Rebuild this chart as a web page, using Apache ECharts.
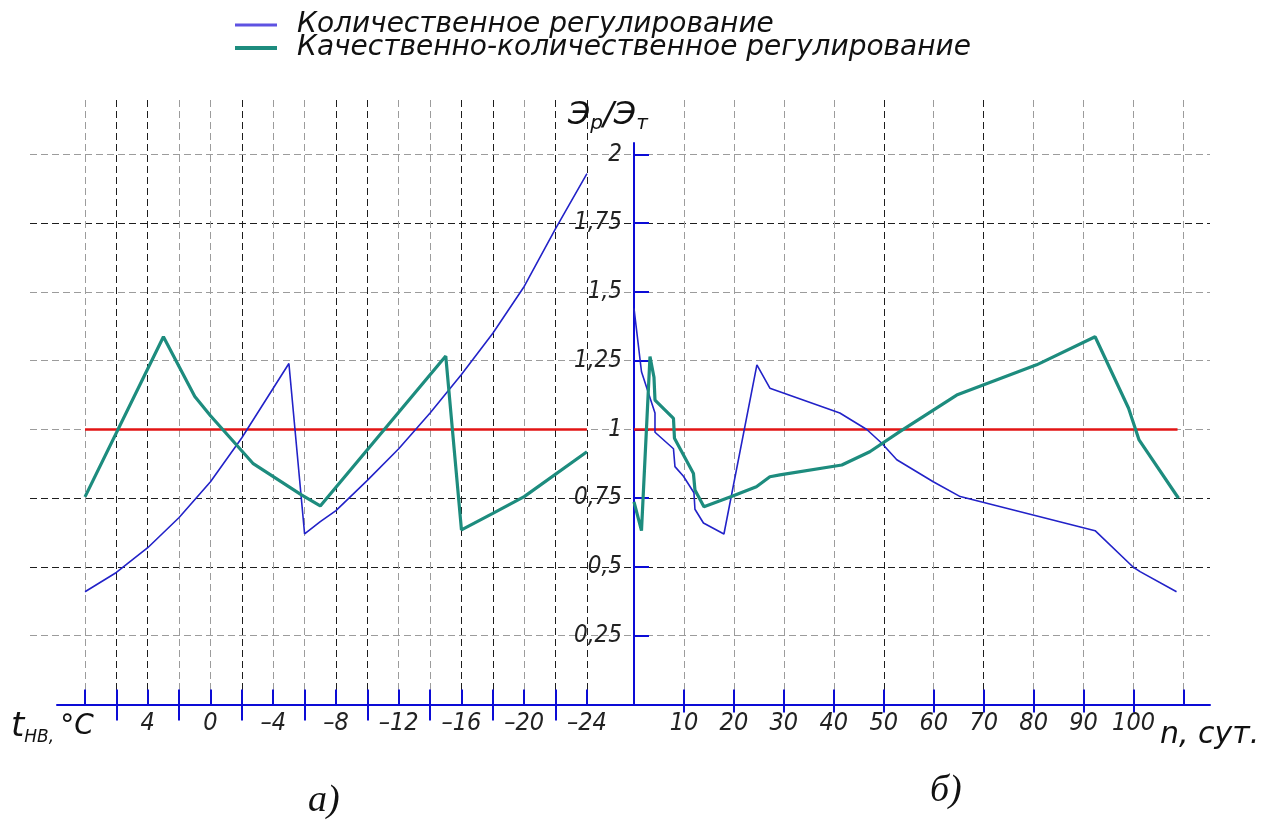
<!DOCTYPE html>
<html><head><meta charset="utf-8">
<script src="https://cdn.jsdelivr.net/npm/echarts@6/dist/echarts.min.js"></script>
<style>html,body{margin:0;padding:0;background:#fff}#c{width:1272px;height:825px}</style>
</head><body><div id="c"></div>
<script>
// ---- tick / label values ----
const tempTicks = [-24,-22,-20,-18,-16,-14,-12,-10,-8,-6,-4,-2,0,2,4,6,8];
const tempLabels = [-24,-20,-16,-12,-8,-4,0,4];
const tempMinorTicks = [-22,-18,-14,-10,-6,-2,2,6];
const dayTicks = [10,20,30,40,50,60,70,80,90,100,110];
const dayLabels = [10,20,30,40,50,60,70,80,90,100];
const ratioTicks = [0.25,0.5,0.75,1,1.25,1.5,1.75,2];

const nameQ = 'Количественное регулирование';
const nameQQ = 'Качественно-количественное регулирование';

// ---- panel а): vs outdoor temperature ----
const quantTemp = [[8,0.41],[6,0.48],[4,0.57],[2,0.68],[0,0.81],[-1,0.89],[-2,0.97],[-3,1.06],[-4,1.15],[-5,1.24],[-6,0.62],[-7,0.665],[-8,0.705],[-10,0.815],[-12,0.93],[-14,1.06],[-16,1.2],[-18,1.35],[-20,1.52],[-22,1.73],[-24,1.93]];
const qualQuantTemp = [[8,0.755],[3,1.337],[1,1.12],[0,1.05],[-2.7,0.877],[-5.8,0.762],[-7,0.722],[-15,1.267],[-16,0.635],[-18,0.695],[-20,0.756],[-24,0.919]];
const baseTemp = [[8,1],[-24,1]];

// ---- panel б): vs days ----
const quantDays = [[0,1.44],[1.5,1.21],[4.2,1.06],[4.2,0.99],[7.9,0.93],[8.2,0.865],[9.9,0.83],[12,0.77],[12.2,0.71],[13.9,0.66],[18,0.62],[24.6,1.235],[27.2,1.15],[41.2,1.06],[46.6,1.0],[49.6,0.95],[52.6,0.89],[59.9,0.81],[65.3,0.756],[92.3,0.632],[99.9,0.5],[101.3,0.483],[108.6,0.41]];
const qualQuantDays = [[0,0.737],[1.5,0.632],[3.2,1.265],[4.0,1.19],[4.2,1.107],[7.9,1.04],[8.1,0.968],[11.9,0.84],[12.2,0.78],[14,0.719],[19.5,0.756],[24.5,0.792],[27.2,0.828],[29.2,0.835],[41.6,0.871],[47.2,0.919],[53.2,0.992],[64.6,1.125],[80.6,1.235],[92.3,1.337],[99,1.077],[101.1,0.962],[109,0.75]];
const baseDays = [[0,1],[108.8,1]];

// ---- styles ----
const G = '#9c9c9c', K = '#1e1e1e';
const tempGridColors = [K,K,G,K,K,G,G,K,K,G,G,K,G,G,K,K,G];
const dayGridColors = [G,G,G,G,K,G,K,G,G,G,G];
const ratioGridColors = [G,K,K,G,G,G,K,G];
const axisBlue = '#0c0cd6';
const blue = '#2222c8', green = '#1d8c7e', red = '#e21414';
const dash = [7,4];
const labFont = '"DejaVu Sans Condensed","Liberation Sans Narrow","DejaVu Sans",sans-serif';
const txtFont = '"DejaVu Sans",sans-serif';
const fmtNum = v => String(v).replace('.', ',').replace('-', '–');

const labelStyle = {fontFamily: labFont, fontStyle: 'italic', fontSize: 24, color: '#222'};
const tickStyle = {color: axisBlue, width: 2};

const chart = echarts.init(document.getElementById('c'), null, {renderer: 'canvas'});
const option = {
  animation: false,
  backgroundColor: '#fff',
  legend: {
    left: 228, top: 6, orient: 'vertical', itemWidth: 42, itemHeight: 12, itemGap: -5,
    selectedMode: false,
    itemStyle: {opacity: 0, borderWidth: 0},
    textStyle: {fontFamily: txtFont, fontStyle: 'italic', fontSize: 28, color: '#111', padding: [0,0,0,15]},
    data: [
      {name: nameQ, lineStyle: {color: '#5e52e2', width: 3}},
      {name: nameQQ, lineStyle: {color: green, width: 4}}
    ]
  },
  grid: [
    {left: 57, right: 638, top: 100, bottom: 120.5, outerBoundsMode: 'none'},
    {left: 634, right: 62, top: 100, bottom: 120.5, outerBoundsMode: 'none'},
    {left: 30, right: 62, top: 143, bottom: 120.5, outerBoundsMode: 'none'}
  ],
  xAxis: [
    {gridIndex: 0, type: 'value', position: 'bottom', inverse: true, min: -27, max: 9.785,
      axisLine: {show: true, onZero: false, lineStyle: {color: axisBlue, width: 2}},
      axisTick: {show: true, inside: true, length: 15, customValues: tempTicks, lineStyle: tickStyle},
      axisLabel: Object.assign({show: true, customValues: tempLabels, formatter: fmtNum, margin: 6}, labelStyle, {fontSize: 25}),
      splitLine: {show: true, lineStyle: {color: tempGridColors, type: dash, width: 1}}},
    {gridIndex: 0, type: 'value', position: 'bottom', inverse: true, min: -27, max: 9.785,
      axisLine: {show: false, onZero: false},
      axisTick: {show: true, inside: false, length: 16, customValues: tempMinorTicks, lineStyle: tickStyle},
      axisLabel: {show: false}, splitLine: {show: false}},
    {gridIndex: 1, type: 'value', position: 'bottom', min: 0, max: 115.3,
      axisLine: {show: true, onZero: false, lineStyle: {color: axisBlue, width: 2}},
      axisTick: {show: true, inside: true, length: 15, customValues: dayTicks, lineStyle: tickStyle},
      axisLabel: Object.assign({show: true, customValues: dayLabels, formatter: fmtNum, margin: 6}, labelStyle, {fontSize: 25}),
      splitLine: {show: true, lineStyle: {color: dayGridColors, type: dash, width: 1}}},
    {gridIndex: 1, type: 'value', position: 'bottom', min: 0, max: 115.3,
      axisLine: {show: false, onZero: false},
      axisTick: {show: true, inside: false, length: 8, customValues: dayLabels, lineStyle: tickStyle},
      axisLabel: {show: false}, splitLine: {show: false}},
    {gridIndex: 2, type: 'value', min: -604, max: 576, show: false,
      axisLine: {onZero: false}, splitLine: {show: false}}
  ],
  yAxis: [
    {gridIndex: 0, type: 'value', min: 0, max: 2.198, show: false, splitLine: {show: false}},
    {gridIndex: 1, type: 'value', min: 0, max: 2.198, show: false, splitLine: {show: false}},
    {gridIndex: 2, type: 'value', position: 'left', offset: -604, min: 0, max: 2.0418,
      axisLine: {show: true, onZero: false, lineStyle: {color: axisBlue, width: 2}},
      axisTick: {show: true, inside: true, length: 15, customValues: ratioTicks, lineStyle: tickStyle},
      axisLabel: Object.assign({show: true, customValues: ratioTicks, formatter: fmtNum, margin: 12}, labelStyle),
      splitLine: {show: true, lineStyle: {color: ratioGridColors, type: dash, width: 1}}}
  ],
  series: [
    {type: 'line', name: 'base', xAxisIndex: 0, yAxisIndex: 0, data: baseTemp, symbol: 'none', lineStyle: {color: red, width: 2.5}, z: 3},
    {type: 'line', name: nameQ, xAxisIndex: 0, yAxisIndex: 0, data: quantTemp, symbol: 'none', color: blue, lineStyle: {color: blue, width: 1.6}, z: 4},
    {type: 'line', name: nameQQ, xAxisIndex: 0, yAxisIndex: 0, data: qualQuantTemp, symbol: 'none', color: green, lineStyle: {color: green, width: 3.2}, z: 5},
    {type: 'line', name: 'base', xAxisIndex: 2, yAxisIndex: 1, data: baseDays, symbol: 'none', lineStyle: {color: red, width: 2.5}, z: 3},
    {type: 'line', name: nameQ, xAxisIndex: 2, yAxisIndex: 1, data: quantDays, symbol: 'none', color: blue, lineStyle: {color: blue, width: 1.6}, z: 4},
    {type: 'line', name: nameQQ, xAxisIndex: 2, yAxisIndex: 1, data: qualQuantDays, symbol: 'none', color: green, lineStyle: {color: green, width: 3.2}, z: 5}
  ],
  graphic: [
    {type: 'text', left: 568, top: 100, z: 10, style: {
      text: '{a|Э}{b|р}{a|/Э}{b|т}', fill: '#111',
      rich: {
        a: {fontFamily: txtFont, fontStyle: 'italic', fontSize: 32, lineHeight: 36, fill: '#111'},
        b: {fontFamily: txtFont, fontStyle: 'italic', fontSize: 20, lineHeight: 20, verticalAlign: 'bottom', fill: '#111'}
      }}},
    {type: 'text', left: 11, top: 710, z: 10, style: {
      text: '{t|t}{s|НВ,}{c|°C}', fill: '#111',
      rich: {
        t: {fontFamily: txtFont, fontStyle: 'italic', fontSize: 34, lineHeight: 38, fill: '#111'},
        c: {fontFamily: txtFont, fontStyle: 'italic', fontSize: 28, lineHeight: 38, fill: '#111', padding: [0,0,0,6]},
        s: {fontFamily: txtFont, fontStyle: 'italic', fontSize: 17, lineHeight: 17, verticalAlign: 'bottom', fill: '#111'}
      }}},
    {type: 'text', left: 1160, top: 720, z: 10, style: {
      text: 'n, сут.', fill: '#111', fontFamily: txtFont, fontStyle: 'italic', fontSize: 30}},
    {type: 'text', left: 308, top: 782, z: 10, style: {
      text: 'а)', fill: '#111', fontFamily: '"Liberation Serif",serif', fontStyle: 'italic', fontSize: 38}},
    {type: 'text', left: 930, top: 772, z: 10, style: {
      text: 'б)', fill: '#111', fontFamily: '"Liberation Serif",serif', fontStyle: 'italic', fontSize: 38}}
  ]
};
chart.setOption(option);
</script>
</body></html>
